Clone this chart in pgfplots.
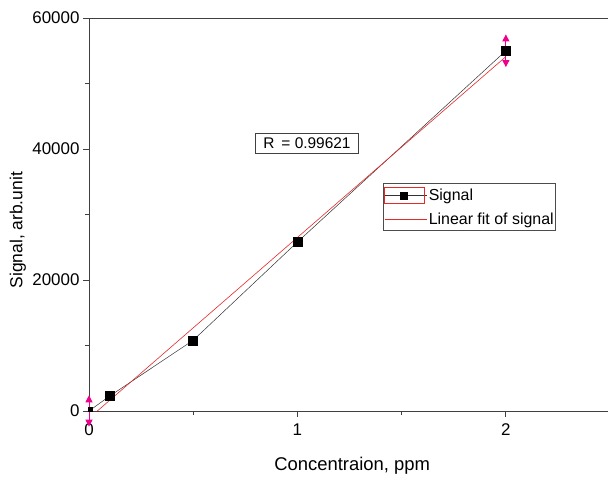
\documentclass[border=0pt]{standalone}
\usepackage{fontspec}
\setmainfont{Liberation Sans}
\usepackage{pgfplots}
\pgfplotsset{compat=1.18}
\usetikzlibrary{arrows.meta}
\definecolor{fitred}{RGB}{230,40,40}
\begin{document}
\begin{tikzpicture}
\path[use as bounding box] (-89bp,-70bp) rectangle (519bp,411bp);
\begin{axis}[
  name=ax,
  at={(0,0)}, anchor=south west,
  scale only axis,
  width=519bp, height=393bp,
  xmin=0, xmax=2.49, ymin=0, ymax=60000,
  clip=false,
  axis x line*=bottom, axis y line*=left,
  axis line style={black!75, line width=0.8pt},
  xtick={0,1,2}, minor xtick={0.5,1.5},
  ytick={0,20000,40000,60000}, minor ytick={10000,30000,50000},
  tick align=outside,
  major tick length=6bp, minor tick length=4bp,
  tick style={black!75, line width=0.8pt},
  scaled y ticks=false,
  /pgf/number format/assume math mode=true,
  /pgf/number format/set thousands separator={},
  tick label style={font=\fontsize{17}{19}\selectfont},
  xticklabel style={yshift=-3bp},
  xlabel={Concentraion, ppm},
  ylabel={Signal, arb.unit},
  xlabel style={font=\fontsize{18.5}{20}\selectfont, at={(axis description cs:0.507,-0.14)}, anchor=center},
  ylabel style={font=\fontsize{17.5}{19}\selectfont, at={(axis description cs:-0.137,0.46)}, anchor=center},
  legend style={at={(rel axis cs:0.566,0.58)}, anchor=north west,
    draw=black!70, line width=0.6pt, font=\fontsize{16}{18}\selectfont,
    inner xsep=1pt, inner ysep=4pt, row sep=8pt,
    nodes={inner sep=1pt}},
  legend cell align=left,
]
\draw[black!75, line width=0.8pt] (rel axis cs:0,1) -- (rel axis cs:1,1);
% data line with marks
\addplot[black!80, line width=0.5pt, mark=square*, mark size=4.5bp,
  mark options={fill=black, draw=black, solid},
  mark indices={2,3,4,5},
  legend image code/.code={
    \path (0pt,0pt) -- (43pt,0pt);
    \draw[fitred, line width=0.5pt] (0pt,-8pt) rectangle (40pt,8pt);
    \draw[black!80, line width=0.5pt] (2pt,0pt) -- (38pt,0pt);
    \fill[black] (16pt,-3.5pt) rectangle (23pt,3.5pt);
  }]
  coordinates {(0,0) (0.1,2300) (0.5,10800) (1,25800) (2,55000)};
\addlegendentry{Signal}
\addplot[fitred, line width=0.6pt,
  legend image code/.code={\path (0pt,0pt) -- (43pt,0pt); \draw[fitred, line width=1.2pt] (0pt,0pt) -- (40pt,0pt);}]
  coordinates {(0.04,0) (2,54100)};
\addlegendentry{Linear fit of signal}
% small mark at origin
\addplot[only marks, mark=square*, mark size=2bp, black, forget plot]
  coordinates {(0.005,200)};
% error bars
\addplot[magenta, line width=1pt, {Triangle[length=7bp,width=7bp]}-{Triangle[length=7bp,width=7bp]}, forget plot]
  coordinates {(2,52500) (2,57500)};
\addplot[magenta, line width=1pt, {Triangle[length=7bp,width=7bp]}-{Triangle[length=7bp,width=7bp]}, forget plot]
  coordinates {(0,-2400) (0,2400)};
\node[draw=black!75, line width=0.6pt, fill=white, anchor=center,
  font=\fontsize{15.5}{17}\selectfont, inner xsep=4bp, inner ysep=2bp,
  minimum width=103bp, minimum height=20bp]
  at (axis cs:1.046,40900) {R \,= 0.99621};
\end{axis}
\end{tikzpicture}
\end{document}
